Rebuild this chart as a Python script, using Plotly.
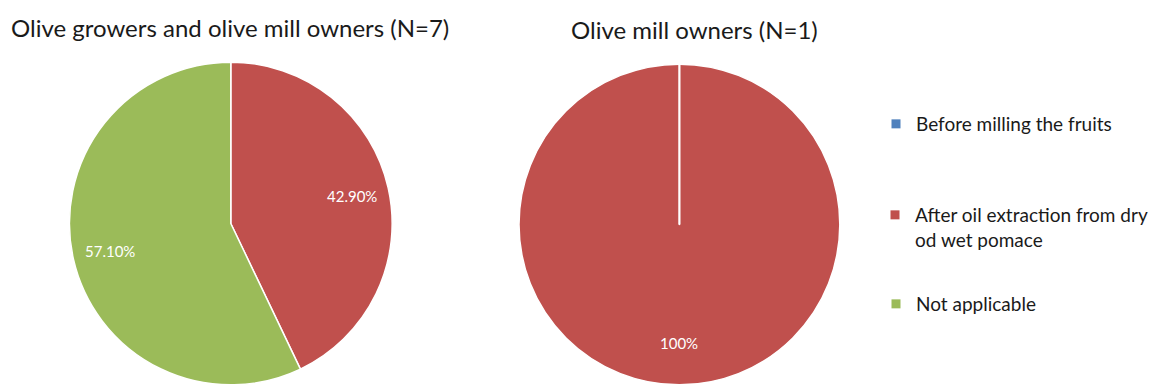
import math
import plotly.graph_objects as go

# Response categories and shares (%)
categories = ["Before milling the fruits",
              "After oil extraction from dry od wet pomace",
              "Not applicable"]
legend_names = ["Before milling the fruits",
                "After oil extraction from dry<br>od wet pomace",
                "Not applicable"]
growers_values = [0.0, 42.9, 57.1]
mill_values = [0.0, 100.0, 0.0]
growers_labels = ["", "42.90%", "57.10%"]
mill_labels = ["", "100%", ""]

titles = ["Olive growers and olive mill owners (N=7)", "Olive mill owners (N=1)"]
colors = ["#4F81BD", "#C0504D", "#9BBB59"]

W, H = 1153, 385
FONT = "Lato, 'Open Sans', sans-serif"
TXT = "#1a1a1a"


def px_x(x):
    return x / W


def px_y(y):
    return 1 - y / H


# pie geometry in pixels: (centre x, top y)
pies = [
    dict(cx=231, top=62, values=growers_values, texts=growers_labels, lab_r=0.77),
    dict(cx=680, top=64, values=mill_values, texts=mill_labels, lab_r=0.74),
]

fig = go.Figure()
annotations = []
shapes = []

for p in pies:
    r = (H - p["top"]) / 2
    cy = p["top"] + r
    fig.add_trace(go.Pie(
        labels=categories,
        values=p["values"],
        sort=False,
        direction="clockwise",
        rotation=0,
        marker=dict(colors=colors, line=dict(color="white", width=1.5)),
        textinfo="none",
        hoverinfo="label+percent",
        showlegend=False,
        domain=dict(x=[px_x(p["cx"] - r), px_x(p["cx"] + r)],
                    y=[0, px_y(p["top"])]),
    ))
    # slice labels at the middle angle of each slice
    total = sum(p["values"])
    start = 0.0
    nonzero = 0
    for v, t in zip(p["values"], p["texts"]):
        ang = (start + v / 2) / total * 2 * math.pi
        start += v
        if v <= 0:
            continue
        nonzero += 1
        lx = p["cx"] + math.sin(ang) * p["lab_r"] * r
        ly = cy - math.cos(ang) * p["lab_r"] * r
        annotations.append(dict(x=px_x(lx), y=px_y(ly), xref="paper", yref="paper",
                                xanchor="center", yanchor="middle",
                                text=t, showarrow=False,
                                font=dict(family=FONT, size=15, color="white")))
    # a single full slice still shows its white start edge at 12 o'clock
    if nonzero == 1:
        shapes.append(dict(type="line", xref="paper", yref="paper",
                           x0=px_x(p["cx"]), x1=px_x(p["cx"]),
                           y0=px_y(cy), y1=px_y(p["top"]),
                           line=dict(color="white", width=2)))

for title, tx, ty in zip(titles, [230.5, 695], [27, 29]):
    annotations.append(dict(x=px_x(tx), y=px_y(ty), xref="paper", yref="paper",
                            xanchor="center", yanchor="middle",
                            text=title, showarrow=False,
                            font=dict(family=FONT, size=24, color=TXT)))

# legend entries, each in its own legend box
legend_tops = [105, 196, 285]
legend_keys = ["legend", "legend2", "legend3"]
for name, col, key in zip(legend_names, colors, legend_keys):
    fig.add_trace(go.Scatter(
        x=[None], y=[None], mode="markers", name=name,
        marker=dict(symbol="square", size=9, color=col),
        legend=key, hoverinfo="skip",
    ))

legend_common = dict(xanchor="left", yanchor="top", bgcolor="rgba(0,0,0,0)",
                     font=dict(family=FONT, size=19, color=TXT),
                     itemwidth=30, valign="top", borderwidth=0)
layout_legends = {}
for key, top in zip(legend_keys, legend_tops):
    layout_legends[key] = dict(legend_common, x=px_x(876), y=px_y(top))

fig.update_layout(
    width=W, height=H,
    margin=dict(l=0, r=0, t=0, b=0),
    paper_bgcolor="white",
    plot_bgcolor="white",
    xaxis=dict(visible=False),
    yaxis=dict(visible=False),
    annotations=annotations,
    shapes=shapes,
    showlegend=True,
    **layout_legends,
)

fig.write_html("out.html")
